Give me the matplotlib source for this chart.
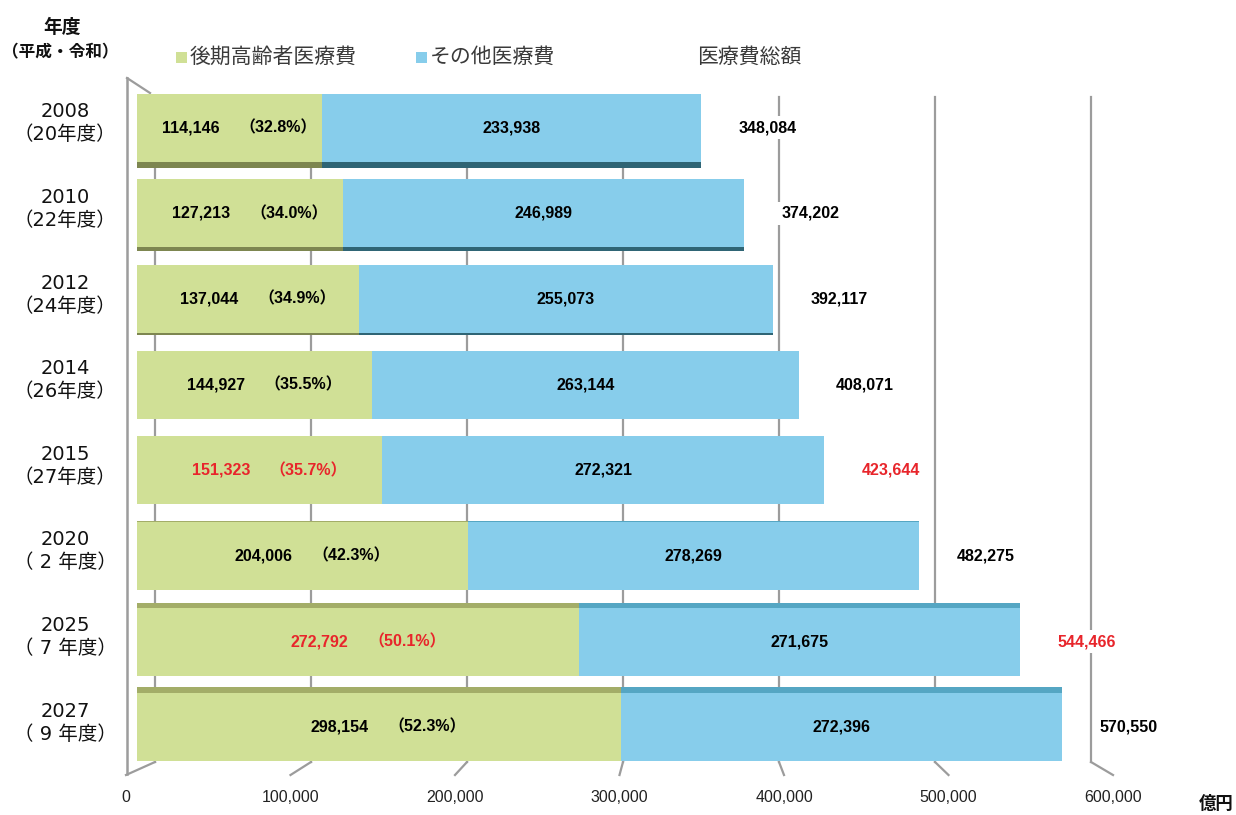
import matplotlib
matplotlib.use("Agg")
import matplotlib.pyplot as plt
from matplotlib.patches import Rectangle
from matplotlib.transforms import blended_transform_factory

plt.rcParams['font.family'] = ['Noto Sans CJK JP', 'DejaVu Sans']

# ---------------- data ----------------
years = ['2008', '2010', '2012', '2014', '2015', '2020', '2025', '2027']
eras = ['（20年度）', '（22年度）', '（24年度）', '（26年度）', '（27年度）',
        '（ 2 年度）', '（ 7 年度）', '（ 9 年度）']
late_elderly = [114146, 127213, 137044, 144927, 151323, 204006, 272792, 298154]
other = [233938, 246989, 255073, 263144, 272321, 278269, 271675, 272396]
total = [348084, 374202, 392117, 408071, 423644, 482275, 544466, 570550]
share = ['32.8', '34.0', '34.9', '35.5', '35.7', '42.3', '50.1', '52.3']
highlight = [False, False, False, False, True, False, True, False]
xticks = [0, 100000, 200000, 300000, 400000, 500000, 600000]
xticklabels = ['0', '100,000', '200,000', '300,000', '400,000', '500,000', '600,000']
legend_labels = ['後期高齢者医療費', 'その他医療費', '医療費総額']

# ---------------- style ----------------
W, H = 1236, 815
GREEN = '#d0e096'
BLUE = '#87cdeb'
GREEN_SIDE_DARK = '#7d8650'
BLUE_SIDE_DARK = '#2f6575'
GREEN_SIDE_LIGHT = '#a3ad68'
BLUE_SIDE_LIGHT = '#55a6c3'
RED = '#e8252b'
GRID = '#9c9c9c'
side_px = [6, 4, 2, 0, 0, 1, 5, 6]        # visible 3D side face thickness (px)
BAR_H = 0.795

AX_L, AX_R, AX_T, AX_B = 137, 1110, 85, 770
XMAX = 600000

fig = plt.figure(figsize=(W / 100, H / 100), dpi=100)
ax = fig.add_axes([AX_L / W, 1 - AX_B / H, (AX_R - AX_L) / W, (AX_B - AX_T) / H])
for s in ax.spines.values():
    s.set_visible(False)
ax.set_yticks([])
ax.set_xticks([])
ax.set_xlim(0, XMAX)
ax.set_ylim(len(years) - 0.5, -0.5)

slot_px = (AX_B - AX_T) / len(years)


def dx(px):
    return (px - AX_L) / (AX_R - AX_L) * XMAX


def ay(py):
    return (AX_B - py) / (AX_B - AX_T)


def back_x(v):
    return dx(155 + 156 * v / 100000)


def front_x(v):
    return dx(126 + 164.5 * v / 100000)


bt = blended_transform_factory(ax.transData, ax.transAxes)

# back-wall grid lines + perspective slashes + tick labels at front edge
for v, lab in zip(xticks, xticklabels):
    ax.plot([back_x(v), back_x(v)], [ay(762), ay(97)], color=GRID, lw=1.6,
            transform=bt, zorder=1, clip_on=False)
    ax.plot([front_x(v), back_x(v)], [ay(775), ay(762)], color=GRID, lw=1.6,
            transform=bt, zorder=1, clip_on=False)
    ax.text(front_x(v), ay(797), lab, transform=bt, ha='center', va='center',
            fontsize=11.5, color='#222222', clip_on=False,
            family=['Liberation Sans', 'Noto Sans CJK JP'])
# left wall
ax.plot([dx(127), dx(127)], [ay(78), ay(774)], color=GRID, lw=1.8,
        transform=bt, zorder=1, clip_on=False)
ax.plot([dx(127), dx(150)], [ay(78), ay(93)], color=GRID, lw=1.6,
        transform=bt, zorder=1, clip_on=False)

# bars
for i in range(len(years)):
    g, o = late_elderly[i], other[i]
    ax.barh(i, g, height=BAR_H, color=GREEN, zorder=3)
    ax.barh(i, o, left=g, height=BAR_H, color=BLUE, zorder=3)
    t = side_px[i] / slot_px
    if t > 0:
        if i < 4:
            yc = i + BAR_H / 2 + t / 2
            cg, cb = GREEN_SIDE_DARK, BLUE_SIDE_DARK
        else:
            yc = i - BAR_H / 2 - t / 2
            cg, cb = GREEN_SIDE_LIGHT, BLUE_SIDE_LIGHT
        ax.barh(yc, g, height=t, color=cg, zorder=3)
        ax.barh(yc, o, left=g, height=t, color=cb, zorder=3)

    col = RED if highlight[i] else 'black'
    fam = ['Liberation Sans', 'Noto Sans CJK JP']
    ax.text(g / 2 - 24000, i, f'{g:,}', ha='center', va='center', fontsize=11.5,
            fontweight='bold', color=col, family=fam, zorder=5)
    ax.text(g / 2 + 30000, i, f'（{share[i]}%）', ha='center', va='center',
            fontsize=11.5, fontweight='bold', color=col, family=fam, zorder=5)
    ax.text(g + o / 2, i, f'{o:,}', ha='center', va='center', fontsize=11.5,
            fontweight='bold', color='black', family=fam, zorder=5)
    ax.text(total[i] + 41000, i, f'{total[i]:,}', ha='center', va='center',
            fontsize=11.5, fontweight='bold', color=col, family=fam, zorder=5,
            clip_on=False,
            bbox=dict(boxstyle='square,pad=0.25', fc='white', ec='none'))

ax.set_xlim(0, XMAX)
ax.set_ylim(len(years) - 0.5, -0.5)

# year labels
yt = blended_transform_factory(fig.transFigure, ax.transData)
for i in range(len(years)):
    ax.text(65 / W, i - 16 / slot_px, years[i], transform=yt, ha='center',
            va='center', fontsize=14, color='#111111', family=['DejaVu Sans'])
    ax.text(65 / W, i + 7 / slot_px, eras[i], transform=yt, ha='center',
            va='center', fontsize=14, color='#111111',
            family=['DejaVu Sans', 'Noto Sans CJK JP'])

# header
fig.text(62 / W, 1 - 27 / H, '年度', ha='center', va='center', fontsize=13.5,
         fontweight='bold', color='#111111')
fig.text(60 / W, 1 - 52 / H, '（平成・令和）', ha='center', va='center',
         fontsize=12, fontweight='bold', color='#111111')

# legend
fig.patches.append(Rectangle((176 / W, 1 - 63 / H), 11 / W, 11 / H,
                             transform=fig.transFigure, fc=GREEN, ec='none'))
fig.text(190 / W, 1 - 57 / H, legend_labels[0], ha='left', va='center',
         fontsize=15, color='#3a3a3a')
fig.patches.append(Rectangle((416 / W, 1 - 63 / H), 11 / W, 11 / H,
                             transform=fig.transFigure, fc=BLUE, ec='none'))
fig.text(430 / W, 1 - 57 / H, legend_labels[1], ha='left', va='center',
         fontsize=15, color='#3a3a3a')
fig.text(697 / W, 1 - 57 / H, legend_labels[2], ha='left', va='center',
         fontsize=15, color='#3a3a3a')

# unit
fig.text(1216 / W, 1 - 804 / H, '億円', ha='center', va='center', fontsize=12.5,
         fontweight='bold', color='#111111')

fig.savefig('out.png', dpi=100)
